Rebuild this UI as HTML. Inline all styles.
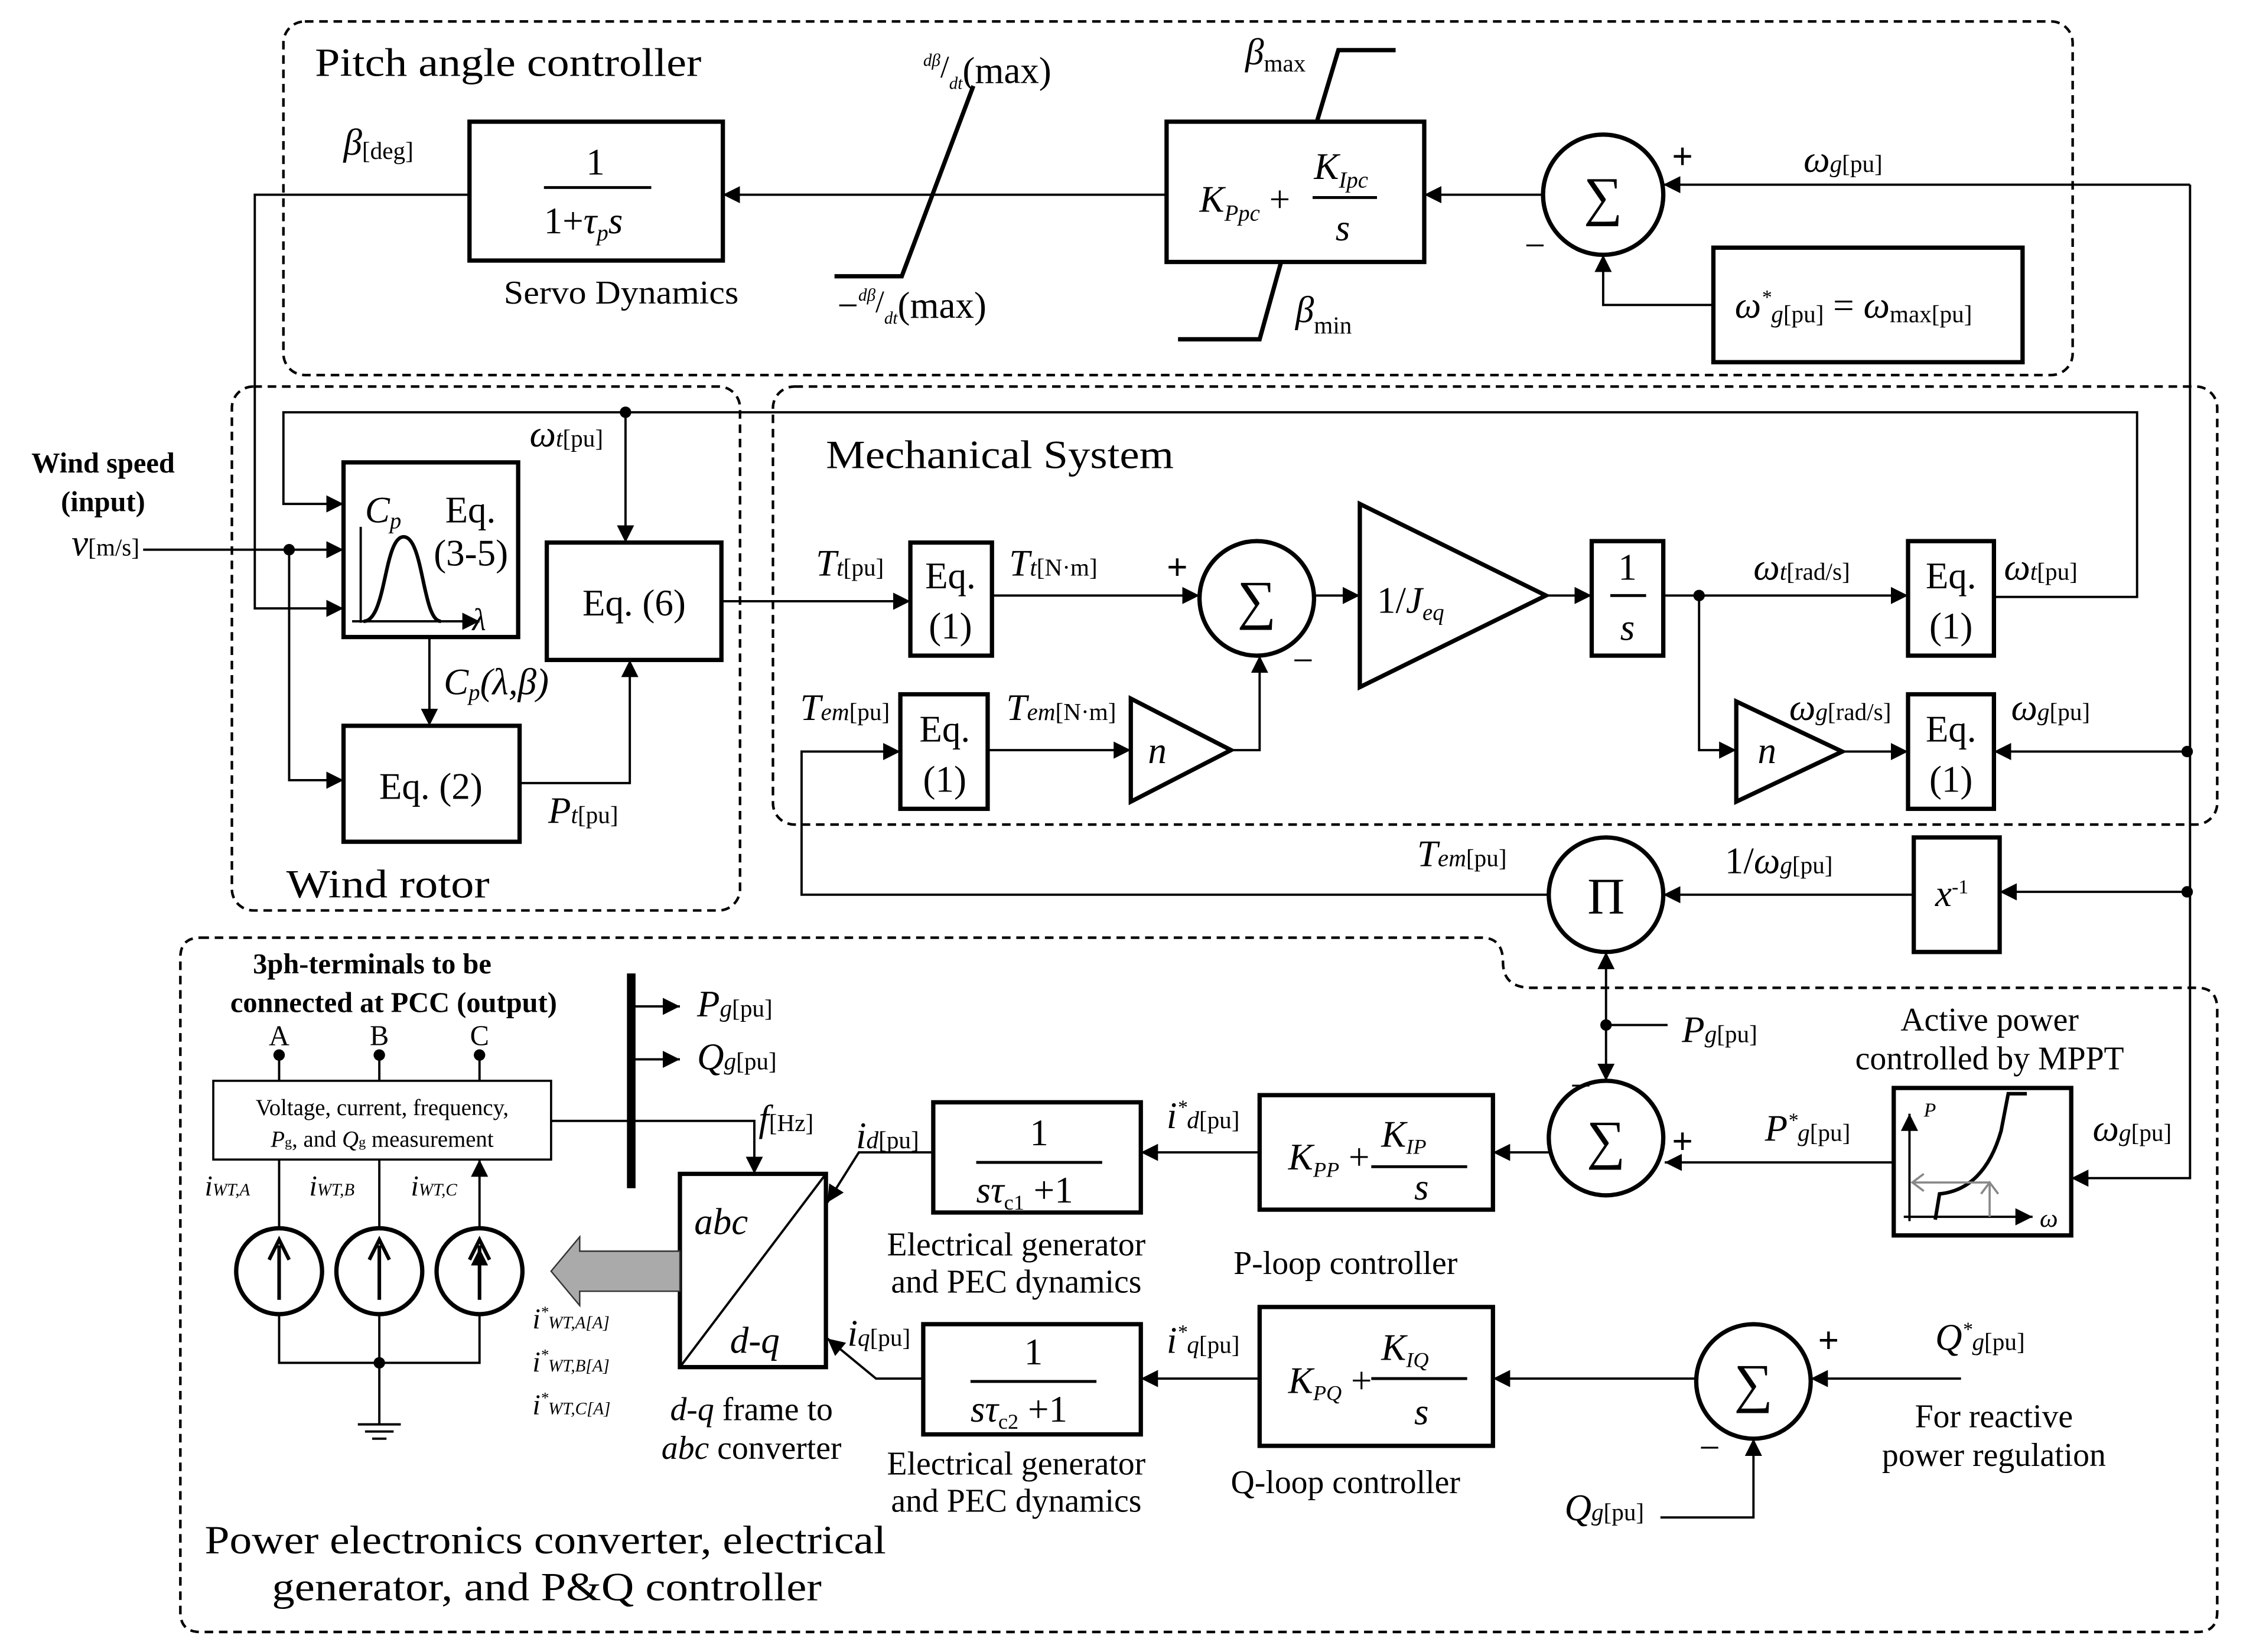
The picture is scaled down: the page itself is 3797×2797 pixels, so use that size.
<!DOCTYPE html>
<html><head><meta charset="utf-8"><style>
html,body{margin:0;padding:0;background:#fff;}
svg{display:block;}
text{font-family:"Liberation Serif",serif;fill:#000;}
.i{font-style:italic;}
</style></head><body>
<svg width="3797" height="2797" viewBox="0 0 1567 1154" preserveAspectRatio="none" xmlns="http://www.w3.org/2000/svg">
<defs>
<marker id="a" viewBox="0 0 10 10" refX="10" refY="5" markerWidth="12" markerHeight="12" markerUnits="userSpaceOnUse" orient="auto"><path d="M0,0L10,5L0,10z" fill="#000"/></marker>
</defs>
<g fill="none" stroke="#000">
<rect x="198" y="15" width="1250" height="247" rx="15" stroke-width="1.8" stroke-dasharray="6,4"/>
<rect x="162" y="270" width="355" height="366" rx="15" stroke-width="1.8" stroke-dasharray="6,4"/>
<rect x="540" y="270" width="1009" height="306" rx="15" stroke-width="1.8" stroke-dasharray="6,4"/>
<path d="M140,655 H1035 Q1050,655 1050,672 Q1050,690 1070,690 H1535 Q1549,690 1549,705 V1126 Q1549,1140 1535,1140 H140 Q126,1140 126,1126 V669 Q126,655 140,655Z" stroke-width="1.8" stroke-dasharray="6,4"/>

<g stroke-width="3">
<rect x="328" y="85" width="177" height="97"/>
<rect x="815" y="85" width="180" height="98"/>
<rect x="1197" y="173" width="216" height="80"/>
<rect x="240" y="323" width="122" height="122"/>
<rect x="240" y="507" width="123" height="81"/>
<rect x="382" y="379" width="122" height="82"/>
<rect x="636" y="379" width="57" height="79"/>
<rect x="1112" y="378" width="50" height="80"/>
<rect x="1333" y="378" width="60" height="80"/>
<rect x="1333" y="485" width="60" height="80"/>
<rect x="629" y="485" width="61" height="80"/>
<rect x="1337" y="585" width="60" height="80"/>
<rect x="1323" y="760" width="124" height="103"/>
<rect x="880" y="765" width="163" height="80"/>
<rect x="652" y="770" width="145" height="77"/>
<rect x="880" y="913" width="163" height="97"/>
<rect x="645" y="925" width="152" height="77"/>
<rect x="475" y="820" width="102" height="135"/>
<circle cx="1120" cy="136" r="42"/>
<circle cx="878" cy="418" r="40"/>
<circle cx="1122" cy="625" r="40"/>
<circle cx="1122" cy="795" r="40"/>
<circle cx="1225" cy="965" r="40"/>
<path d="M950,352 L950,480 L1080,416Z"/>
<path d="M1213,490 L1213,560 L1287,525Z"/>
<path d="M790,488 L790,560 L860,524Z"/>
<path d="M583,193 H630 L680,60"/>
<path d="M920,85 L935,35 H975"/>
<path d="M895,183 L880,237 H823"/>
<circle cx="195" cy="888" r="30"/><circle cx="265" cy="888" r="30"/><circle cx="335" cy="888" r="30"/>
</g>
<line x1="441" y1="680" x2="441" y2="830" stroke-width="6"/>
<rect x="149" y="755" width="236" height="55" stroke-width="1.5"/>

<g stroke-width="1.6">
<path d="M328,136 H178 V425 H240" marker-end="url(#a)"/>
<path d="M815,136 H505" marker-end="url(#a)"/>
<path d="M1078,136 H995" marker-end="url(#a)"/>
<path d="M1530,129 H1162" marker-end="url(#a)"/>
<path d="M1197,213 H1120 V178" marker-end="url(#a)"/>
<path d="M1530,129 V823 H1447" marker-end="url(#a)"/>
<path d="M1393,417 H1493 V288 H198 V352 H240" marker-end="url(#a)"/>
<path d="M437,288 V379" marker-end="url(#a)"/>
<path d="M100,384 H240" marker-end="url(#a)"/>
<path d="M202,384 V545 H240" marker-end="url(#a)"/>
<path d="M300,445 V507" marker-end="url(#a)"/>
<path d="M363,547 H440 V461" marker-end="url(#a)"/>
<path d="M504,420 H636" marker-end="url(#a)"/>
<path d="M693,416 H838" marker-end="url(#a)"/>
<path d="M918,416 H950" marker-end="url(#a)"/>
<path d="M1080,416 H1112" marker-end="url(#a)"/>
<path d="M1162,416 H1333" marker-end="url(#a)"/>
<path d="M1187,416 V524 H1213" marker-end="url(#a)"/>
<path d="M1287,525 H1333" marker-end="url(#a)"/>
<path d="M1528,525 H1393" marker-end="url(#a)"/>
<path d="M690,524 H790" marker-end="url(#a)"/>
<path d="M860,524 H880 V458" marker-end="url(#a)"/>
<path d="M1082,625 H560 V525 H629" marker-end="url(#a)"/>
<path d="M1337,625 H1162" marker-end="url(#a)"/>
<path d="M1528,623 H1397" marker-end="url(#a)"/>
<path d="M1122,716 V665" marker-end="url(#a)"/>
<path d="M1122,716 V755" marker-end="url(#a)"/>
<path d="M1122,716 H1165"/>
<path d="M1323,812 H1163" marker-end="url(#a)"/>
<path d="M1082,805 H1043" marker-end="url(#a)"/>
<path d="M880,805 H797" marker-end="url(#a)"/>
<path d="M652,805 H600 L578,840" marker-end="url(#a)"/>
<path d="M1370,963 H1265" marker-end="url(#a)"/>
<path d="M1160,1060 H1225 V1005" marker-end="url(#a)"/>
<path d="M1185,963 H1043" marker-end="url(#a)"/>
<path d="M880,963 H797" marker-end="url(#a)"/>
<path d="M645,963 H612 L578,935" marker-end="url(#a)"/>
<path d="M475,955 L577,820"/>
<path d="M441,703 H475" marker-end="url(#a)"/>
<path d="M441,740 H475" marker-end="url(#a)"/>
<path d="M385,783 H527 V820" marker-end="url(#a)"/>
<path d="M195,737 V755 M265,737 V755 M335,737 V755"/>
<path d="M195,858 V810 M265,858 V810 M335,858 V810" marker-end="url(#a)"/>
<path d="M195,905 V872 M265,905 V872 M335,905 V872" marker-end="url(#a)"/>
<path d="M195,918 V952 H335 V918 M265,918 V995 M250,995 H280 M255,1000 H275 M260,1005 H270"/>
<path d="M252,435 V368 M246,434 H335" marker-end="url(#a)"/>
<path d="M254,434 C270,434 268,375 282,375 C296,375 295,434 308,434" stroke-width="2.5"/>
<path d="M1334,853 V778" marker-end="url(#a)"/>
<path d="M1330,850 H1420" marker-end="url(#a)"/>
<path d="M1352,852 L1355,834 C1375,832 1390,818 1398,790 L1403,764 H1416" stroke-width="2.5"/>
<path d="M1390,850 V826 M1390,826 H1336" stroke="#888" stroke-width="1.5"/>
<path d="M1344,820 L1336,826 L1344,832 M1384,834 L1390,826 L1396,834" stroke="#888" stroke-width="1.5"/>
</g>
<g stroke-width="2">
<line x1="380" y1="131" x2="455" y2="131"/>
<line x1="917" y1="138" x2="962" y2="138"/>
<line x1="1125" y1="416" x2="1150" y2="416"/>
<line x1="682" y1="812" x2="770" y2="812"/>
<line x1="958" y1="815" x2="1025" y2="815"/>
<line x1="678" y1="965" x2="766" y2="965"/>
<line x1="958" y1="963" x2="1025" y2="963"/>
</g>
</g>
<path d="M475,874 H405 V864 L385,888 L405,912 V902 H475Z" fill="#aaa" stroke="#333" stroke-width="1"/>
<g fill="#000">
<circle cx="202" cy="384" r="4"/><circle cx="437" cy="288" r="4"/><circle cx="1187" cy="416" r="4"/>
<circle cx="1528" cy="525" r="4"/><circle cx="1528" cy="623" r="4"/><circle cx="1122" cy="716" r="4"/>
<circle cx="195" cy="737" r="4"/><circle cx="265" cy="737" r="4"/><circle cx="335" cy="737" r="4"/><circle cx="265" cy="952" r="4"/>
</g>
<g stroke="#000" stroke-width="2.5" fill="none"><path d="M195,908 V870 M188,880 L195,866 L202,880 M265,908 V870 M258,880 L265,866 L272,880 M335,908 V870 M328,880 L335,866 L342,880"/></g>

<g font-size="28">
<text x="220" y="53" textLength="270" lengthAdjust="spacingAndGlyphs">Pitch angle controller</text>
<text x="577" y="327" textLength="243" lengthAdjust="spacingAndGlyphs">Mechanical System</text>
<text x="200" y="627" textLength="142" lengthAdjust="spacingAndGlyphs">Wind rotor</text>
<text x="143" y="1085" textLength="476" lengthAdjust="spacingAndGlyphs">Power electronics converter, electrical</text>
<text x="190" y="1118" textLength="384" lengthAdjust="spacingAndGlyphs">generator, and P&amp;Q controller</text>
</g>
<g font-size="23">
<text x="352" y="212" textLength="164" lengthAdjust="spacingAndGlyphs">Servo Dynamics</text>
<text x="1390" y="720" text-anchor="middle">Active power</text>
<text x="1390" y="747" text-anchor="middle">controlled by MPPT</text>
<text x="710" y="877" text-anchor="middle">Electrical generator</text>
<text x="710" y="903" text-anchor="middle">and PEC dynamics</text>
<text x="710" y="1030" text-anchor="middle">Electrical generator</text>
<text x="710" y="1056" text-anchor="middle">and PEC dynamics</text>
<text x="940" y="890" text-anchor="middle">P-loop controller</text>
<text x="940" y="1043" text-anchor="middle">Q-loop controller</text>
<text x="1393" y="997" text-anchor="middle">For reactive</text>
<text x="1393" y="1024" text-anchor="middle">power regulation</text>
<text x="525" y="992" text-anchor="middle"><tspan class="i">d-q</tspan> frame to</text>
<text x="525" y="1019" text-anchor="middle"><tspan class="i">abc</tspan> converter</text>
</g>
<g font-size="20" font-weight="bold">
<text x="72" y="330" text-anchor="middle">Wind speed</text>
<text x="72" y="357" text-anchor="middle">(input)</text>
<text x="260" y="680" text-anchor="middle">3ph-terminals to be</text>
<text x="275" y="707" text-anchor="middle">connected at PCC (output)</text>
</g>
<g font-size="16">
<text x="267" y="779" text-anchor="middle">Voltage, current, frequency,</text>
<text x="267" y="801" text-anchor="middle"><tspan class="i">P</tspan><tspan font-size="10">g</tspan>, and <tspan class="i">Q</tspan><tspan font-size="10">g</tspan> measurement</text>
</g>
<g font-size="26">
<text x="416" y="122" text-anchor="middle">1</text>
<text x="380" y="163">1+<tspan class="i">τ</tspan><tspan class="i" font-size="16" dy="5">p</tspan><tspan class="i" dy="-5">s</tspan></text>
<text x="838" y="148" class="i">K<tspan font-size="16" dy="6">Ppc</tspan><tspan dy="-6" font-style="normal"> +</tspan></text>
<text x="918" y="125" class="i">K<tspan font-size="16" dy="6">Ipc</tspan></text>
<text x="933" y="168" class="i">s</text>
<text x="1120" y="150" text-anchor="middle" font-size="38">∑</text>
<text x="878" y="432" text-anchor="middle" font-size="38">∑</text>
<text x="1122" y="809" text-anchor="middle" font-size="38">∑</text>
<text x="1225" y="979" text-anchor="middle" font-size="38">∑</text>
<text x="1122" y="638" text-anchor="middle" font-size="36">Π</text>
<text x="1212" y="222" class="i">ω<tspan font-size="14" dy="-10">*</tspan><tspan font-size="17" dy="13">g</tspan><tspan font-size="17" font-style="normal">[pu]</tspan><tspan dy="-3" font-style="normal"> = </tspan>ω<tspan font-size="17" dy="3" font-style="normal">max[pu]</tspan></text>
<text x="240" y="108" class="i">β<tspan font-size="17" dy="3" font-style="normal">[deg]</tspan></text>
<text x="870" y="45" class="i">β<tspan font-size="17" dy="5" font-style="normal">max</tspan></text>
<text x="905" y="225" class="i">β<tspan font-size="17" dy="8" font-style="normal">min</tspan></text>
<text x="645" y="58"><tspan class="i" font-size="12" dy="-12">dβ</tspan><tspan font-size="22" dy="8">/</tspan><tspan class="i" font-size="12" dy="8">dt</tspan><tspan dy="-4">(max)</tspan></text>
<text x="585" y="222">−<tspan class="i" font-size="12" dy="-12">dβ</tspan><tspan font-size="22" dy="8">/</tspan><tspan class="i" font-size="12" dy="8">dt</tspan><tspan dy="-4">(max)</tspan></text>
<text x="1260" y="120" class="i">ω<tspan font-size="17">g</tspan><tspan font-size="17" font-style="normal">[pu]</tspan></text>
<text x="1168" y="118" font-weight="bold">+</text>
<text x="1065" y="180">−</text>
<text x="370" y="312" class="i">ω<tspan font-size="17">t</tspan><tspan font-size="17" font-style="normal">[pu]</tspan></text>
<text x="50" y="388" class="i">v<tspan font-size="17" font-style="normal">[m/s]</tspan></text>
<text x="255" y="365" class="i">C<tspan font-size="16" dy="4">p</tspan></text>
<text x="311" y="365">Eq.</text>
<text x="303" y="395">(3-5)</text>
<text x="330" y="440" class="i" font-size="22">λ</text>
<text x="310" y="485" class="i">C<tspan font-size="16" dy="4">p</tspan><tspan dy="-4">(λ,β)</tspan></text>
<text x="301" y="558" text-anchor="middle">Eq. (2)</text>
<text x="383" y="575" class="i">P<tspan font-size="17">t</tspan><tspan font-size="17" font-style="normal">[pu]</tspan></text>
<text x="443" y="430" text-anchor="middle">Eq. (6)</text>
<text x="570" y="402" class="i">T<tspan font-size="17">t</tspan><tspan font-size="17" font-style="normal">[pu]</tspan></text>
<text x="664" y="411" text-anchor="middle">Eq.</text><text x="664" y="446" text-anchor="middle">(1)</text>
<text x="705" y="402" class="i">T<tspan font-size="17">t</tspan><tspan font-size="17" font-style="normal">[N·m]</tspan></text>
<text x="815" y="405" font-weight="bold">+</text>
<text x="903" y="470">−</text>
<text x="962" y="428">1/<tspan class="i">J<tspan font-size="16" dy="5">eq</tspan></tspan></text>
<text x="1137" y="405" text-anchor="middle">1</text>
<text x="1137" y="447" text-anchor="middle" class="i">s</text>
<text x="1225" y="405" class="i">ω<tspan font-size="17">t</tspan><tspan font-size="17" font-style="normal">[rad/s]</tspan></text>
<text x="1363" y="411" text-anchor="middle">Eq.</text><text x="1363" y="446" text-anchor="middle">(1)</text>
<text x="1400" y="405" class="i">ω<tspan font-size="17">t</tspan><tspan font-size="17" font-style="normal">[pu]</tspan></text>
<text x="1228" y="533" class="i">n</text>
<text x="1250" y="503" class="i">ω<tspan font-size="17">g</tspan><tspan font-size="17" font-style="normal">[rad/s]</tspan></text>
<text x="1363" y="518" text-anchor="middle">Eq.</text><text x="1363" y="553" text-anchor="middle">(1)</text>
<text x="1405" y="503" class="i">ω<tspan font-size="17">g</tspan><tspan font-size="17" font-style="normal">[pu]</tspan></text>
<text x="559" y="503" class="i">T<tspan font-size="17">em</tspan><tspan font-size="17" font-style="normal">[pu]</tspan></text>
<text x="660" y="518" text-anchor="middle">Eq.</text><text x="660" y="553" text-anchor="middle">(1)</text>
<text x="703" y="503" class="i">T<tspan font-size="17">em</tspan><tspan font-size="17" font-style="normal">[N·m]</tspan></text>
<text x="802" y="533" class="i">n</text>
<text x="990" y="605" class="i">T<tspan font-size="17">em</tspan><tspan font-size="17" font-style="normal">[pu]</tspan></text>
<text x="1205" y="610">1/<tspan class="i">ω<tspan font-size="17">g</tspan></tspan><tspan font-size="17">[pu]</tspan></text>
<text x="1352" y="633" class="i">x<tspan font-size="14" dy="-9" font-style="normal">-1</tspan></text>
<text x="1175" y="728" class="i">P<tspan font-size="17">g</tspan><tspan font-size="17" font-style="normal">[pu]</tspan></text>
<text x="1097" y="767">−</text>
<text x="1168" y="806" font-weight="bold">+</text>
<text x="1233" y="797" class="i">P<tspan font-size="14" dy="-10">*</tspan><tspan font-size="17" dy="10">g</tspan><tspan font-size="17" font-style="normal">[pu]</tspan></text>
<text x="1462" y="797" class="i">ω<tspan font-size="17">g</tspan><tspan font-size="17" font-style="normal">[pu]</tspan></text>
<text x="1344" y="780" class="i" font-size="14">P</text>
<text x="1425" y="857" class="i" font-size="18">ω</text>
<text x="900" y="817" class="i">K<tspan font-size="15" dy="5">PP</tspan><tspan dy="-5" font-style="normal"> +</tspan></text>
<text x="965" y="801" class="i">K<tspan font-size="15" dy="5">IP</tspan></text>
<text x="988" y="838" class="i">s</text>
<text x="900" y="973" class="i">K<tspan font-size="15" dy="5">PQ</tspan><tspan dy="-5" font-style="normal"> +</tspan></text>
<text x="965" y="950" class="i">K<tspan font-size="15" dy="5">IQ</tspan></text>
<text x="988" y="995" class="i">s</text>
<text x="726" y="800" text-anchor="middle">1</text>
<text x="682" y="840" class="i">sτ<tspan font-size="15" dy="5" font-style="normal">c1</tspan><tspan dy="-5" font-style="normal"> +1</tspan></text>
<text x="722" y="953" text-anchor="middle">1</text>
<text x="678" y="993" class="i">sτ<tspan font-size="15" dy="5" font-style="normal">c2</tspan><tspan dy="-5" font-style="normal"> +1</tspan></text>
<text x="815" y="788" class="i">i<tspan font-size="14" dy="-10">*</tspan><tspan font-size="17" dy="10">d</tspan><tspan font-size="17" font-style="normal">[pu]</tspan></text>
<text x="815" y="945" class="i">i<tspan font-size="14" dy="-10">*</tspan><tspan font-size="17" dy="10">q</tspan><tspan font-size="17" font-style="normal">[pu]</tspan></text>
<text x="598" y="802" class="i">i<tspan font-size="17">d</tspan><tspan font-size="17" font-style="normal">[pu]</tspan></text>
<text x="592" y="940" class="i">i<tspan font-size="17">q</tspan><tspan font-size="17" font-style="normal">[pu]</tspan></text>
<text x="485" y="862" class="i">abc</text>
<text x="510" y="945" class="i">d-q</text>
<text x="530" y="790" class="i">f<tspan font-size="17" font-style="normal">[Hz]</tspan></text>
<text x="487" y="710" class="i">P<tspan font-size="17">g</tspan><tspan font-size="17" font-style="normal">[pu]</tspan></text>
<text x="487" y="747" class="i">Q<tspan font-size="17">g</tspan><tspan font-size="17" font-style="normal">[pu]</tspan></text>
<text x="1270" y="945" font-weight="bold">+</text>
<text x="1187" y="1020">−</text>
<text x="1352" y="943" class="i">Q<tspan font-size="14" dy="-10">*</tspan><tspan font-size="17" dy="10">g</tspan><tspan font-size="17" font-style="normal">[pu]</tspan></text>
<text x="1093" y="1062" class="i">Q<tspan font-size="17">g</tspan><tspan font-size="17" font-style="normal">[pu]</tspan></text>
</g>
<g font-size="20">
<text x="195" y="730" text-anchor="middle">A</text>
<text x="265" y="730" text-anchor="middle">B</text>
<text x="335" y="730" text-anchor="middle">C</text>
<text x="143" y="835" class="i">i<tspan font-size="12">WT,A</tspan></text>
<text x="216" y="835" class="i">i<tspan font-size="12">WT,B</tspan></text>
<text x="287" y="835" class="i">i<tspan font-size="12">WT,C</tspan></text>
<text x="372" y="928" class="i">i<tspan font-size="11" dy="-8">*</tspan><tspan font-size="12" dy="8">WT,A[A]</tspan></text>
<text x="372" y="958" class="i">i<tspan font-size="11" dy="-8">*</tspan><tspan font-size="12" dy="8">WT,B[A]</tspan></text>
<text x="372" y="988" class="i">i<tspan font-size="11" dy="-8">*</tspan><tspan font-size="12" dy="8">WT,C[A]</tspan></text>
</g>
</svg>
</body></html>
